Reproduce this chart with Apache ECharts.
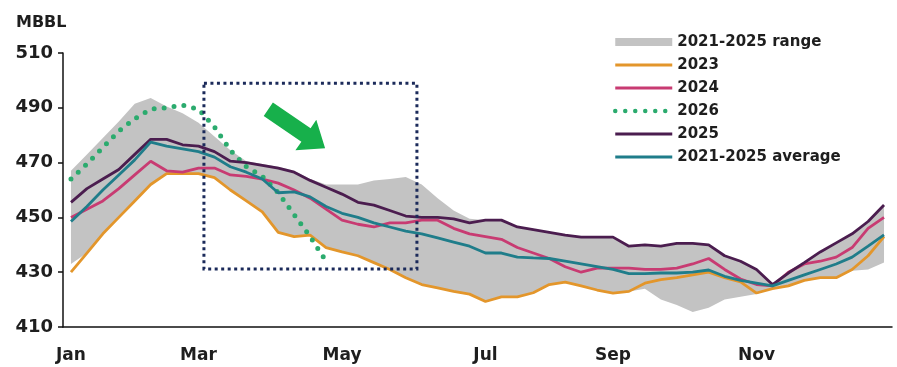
<!DOCTYPE html>
<html>
<head>
<meta charset="utf-8">
<script src="https://cdn.jsdelivr.net/npm/echarts@6/dist/echarts.min.js"></script>
<style>
  html, body { margin: 0; padding: 0; background: #fff; }
  #main { width: 897px; height: 367px; }
</style>
</head>
<body>
<div id="main"></div>
<script>
// weekly categories, month labels sit on the first week of the month
var weeks = Array.from({ length: 52 }, function (_, i) { return 'W' + (i + 1); });
var monthIdx = [0, 8, 17, 26, 34, 43];
var monthNames = ['Jan', 'Mar', 'May', 'Jul', 'Sep', 'Nov'];

var rangeMin = [433,437,444,450,456,462,466,466,466,464.5,460,456,452,444.5,443,443.5,439,437.4,436,433.5,431,428,425.5,424.3,423,422,419.3,421,421,422.5,425.5,426.4,425,423.5,422.4,423,424,420,418,415.5,417,420,421,422,424,425,427,428,428,430.5,431,433.5];
var rangeMax = [467,473,479,485,491.5,493.6,490.5,488,484.5,479.5,474.5,470.5,469.5,468.5,467,464,462,462,462,463.5,464,464.7,462,457,452.5,449.5,449,449,446.5,445.5,444.5,443.5,442.8,442.8,442.8,439.5,440,439.5,440.5,440.5,440,436,434,431,425.5,430,433.5,437.4,440.7,444,448.5,454.5];
var y2023 = [430,437,444,450,456,462,466,466,466,464.5,460,456,452,444.5,443,443.5,439,437.4,436,433.5,431,428,425.5,424.3,423,422,419.3,421,421,422.5,425.5,426.4,425,423.5,422.4,423,426,427.3,428,429,430,428,426.5,422.4,424,425,427,428,428,431,436,443];
var y2024 = [450,453,456,460.5,465.5,470.5,467,466.5,468,468,465.5,465,464,462.5,460,457,453,449,447.5,446.5,448,448,449,449,446,444,443,442,439,437,435,432,430,431.5,431.5,431.5,431,431,431.5,433,435,431,427.5,425.5,425,430,433,434,435.5,439,446,450];
var y2026 = [464,469.5,475.5,481.5,486,489.5,490,491,489.5,483,474.5,468.5,465,459,451,443,434];
var y2025 = [455.5,460.5,464,467.5,473,478.5,478.5,476.5,476,474,470.5,470,469,468,466.5,463.5,461,458.5,455.5,454.5,452.5,450.5,450,450,449.5,448,449,449,446.5,445.5,444.5,443.5,442.8,442.8,442.8,439.5,440,439.5,440.5,440.5,440,436,434,431,425.5,429.7,433.5,437.4,440.7,444,448.5,454.5];
var yAvg = [448.5,454,460,465.5,471,477.5,476,475,474,472,468.5,466.5,464,459,459.3,457.5,454,451.5,450,448,446.5,445,444,442.5,441,439.5,437,437,435.5,435.2,435,434,433,432,431,429.5,429.5,429.7,429.7,430,430.8,428.5,427,426,425,427,429,431,433,435.5,439.5,443.6];

// highlighted window (category index / MBBL)
var boxX = [8.34, 21.7];
var boxY = [431.2, 499];

var font = 'DejaVu Sans';
var ink = '#1e1e1e';
var dots = { width: 5, type: [0, 10], cap: 'round' };

var myChart = echarts.init(document.getElementById('main'));

function lineSeries(name, data, color, extra) {
    var s = {
        name: name,
        type: 'line',
        data: data,
        symbol: 'none',
        lineStyle: { color: color, width: 2.8 },
        itemStyle: { color: color }
    };
    return Object.assign(s, extra || {});
}

var option = {
    animation: false,
    backgroundColor: '#fff',
    title: {
        text: 'MBBL',
        left: 11,
        top: 10,
        textStyle: { fontFamily: font, fontWeight: 'bold', fontSize: 16, color: ink }
    },
    legend: {
        orient: 'vertical',
        left: 608,
        top: 28,
        itemWidth: 57,
        itemHeight: 8,
        itemGap: 5,
        itemStyle: { opacity: 0 },
        lineStyle: { width: 3 },
        textStyle: { fontFamily: font, fontWeight: 'bold', fontSize: 15, color: ink, lineHeight: 18 },
        data: [
            { name: '2021-2025 range', icon: 'rect', itemStyle: { opacity: 1 } },
            '2023', '2024',
            { name: '2026', lineStyle: { width: 4.5, type: [0, 10], cap: 'round' } },
            '2025', '2021-2025 average'
        ]
    },
    grid: { left: 63, right: 5, top: 53, bottom: 40 },
    xAxis: {
        type: 'category',
        data: weeks,
        boundaryGap: true,
        axisLine: { lineStyle: { color: '#111', width: 1.5 } },
        axisTick: {
            length: 5,
            lineStyle: { color: '#111', width: 1.5 },
            interval: function (index) { return index % 5 === 0; }
        },
        axisLabel: {
            interval: function (index) { return monthIdx.indexOf(index) >= 0; },
            formatter: function (value, index) { return monthNames[monthIdx.indexOf(index)]; },
            margin: 20,
            fontFamily: font, fontWeight: 'bold', fontSize: 17, color: ink
        },
        splitLine: { show: false }
    },
    yAxis: {
        type: 'value',
        min: 410,
        max: 510,
        interval: 20,
        axisLine: { show: true, lineStyle: { color: '#111', width: 1.5 } },
        axisTick: { show: true, length: 5, lineStyle: { color: '#111', width: 1.5 } },
        axisLabel: { margin: 10, fontFamily: font, fontWeight: 'bold', fontSize: 18, color: ink },
        splitLine: { show: false }
    },
    series: [
        {
            name: 'rangeBase',
            type: 'line',
            stack: 'range',
            data: rangeMin,
            symbol: 'none',
            silent: true,
            lineStyle: { width: 0, opacity: 0 }
        },
        {
            name: '2021-2025 range',
            type: 'line',
            stack: 'range',
            data: rangeMax.map(function (v, i) { return v - rangeMin[i]; }),
            symbol: 'none',
            lineStyle: { width: 0, opacity: 0 },
            itemStyle: { color: '#c3c3c3' },
            areaStyle: { color: '#c3c3c3', opacity: 1 }
        },
        lineSeries('2023', y2023, '#e3962b'),
        lineSeries('2024', y2024, '#c83b72'),
        lineSeries('2026', y2026, '#2bab6e', {
            lineStyle: Object.assign({ color: '#2bab6e' }, dots)
        }),
        lineSeries('2025', y2025, '#4b1d4f'),
        lineSeries('2021-2025 average', yAvg, '#1f7d8a')
    ]
};

myChart.setOption(option);

// dotted box and arrow annotations
var p0 = myChart.convertToPixel({ gridIndex: 0 }, [0, boxY[1]]);
var p1 = myChart.convertToPixel({ gridIndex: 0 }, [1, boxY[0]]);
var step = p1[0] - p0[0];
var bx0 = p0[0] + step * boxX[0];
var bx1 = p0[0] + step * boxX[1];

myChart.setOption({
    graphic: [
        {
            type: 'rect',
            shape: { x: bx0, y: p0[1], width: bx1 - bx0, height: p1[1] - p0[1] },
            style: { fill: null, stroke: '#1b2a5a', lineWidth: 3, lineDash: [3, 3.5] },
            z: 100
        },
        {
            type: 'polygon',
            shape: {
                points: [[272.9, 102.4], [310.6, 128.2], [316.3, 119.7], [325.1, 148.2],
                         [295.4, 150.3], [301.4, 141.8], [263.7, 116.0]]
            },
            style: { fill: '#17b04b' },
            z: 100
        }
    ]
});
</script>
</body>
</html>
